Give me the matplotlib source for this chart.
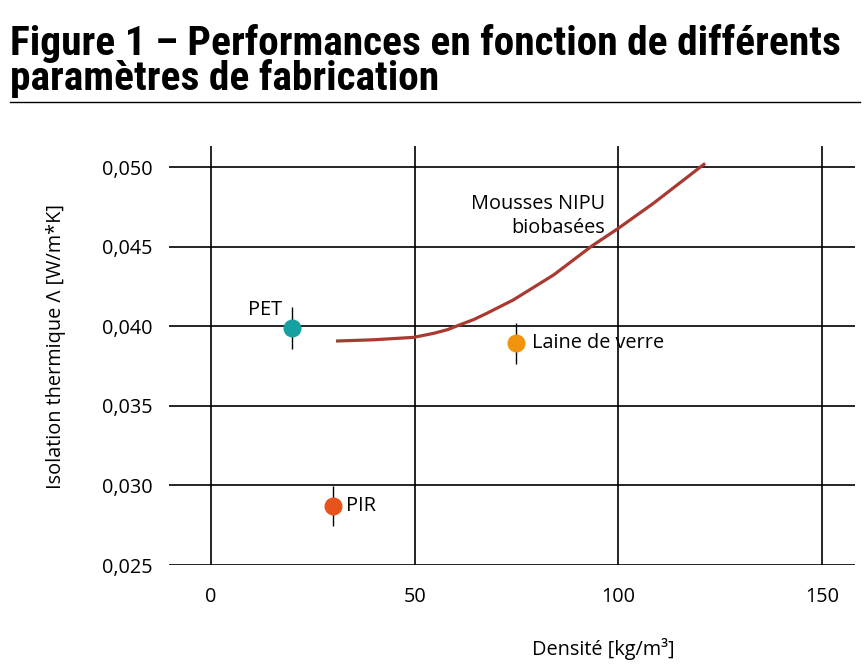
import matplotlib.pyplot as plt
from matplotlib.lines import Line2D

# data
curve_density = [30.7, 40, 49.7, 54.6, 58, 61, 64.5, 67.7, 74.2, 84.1, 93.5, 100, 108.6, 121.3]
curve_lambda = [0.03907, 0.03915, 0.03930, 0.03955, 0.03978, 0.04008, 0.04042, 0.04081,
                0.04165, 0.04322, 0.04504, 0.04615, 0.04772, 0.05023]

materials = ['PET', 'PIR', 'Laine de verre']
mat_density = [20, 30, 75]
mat_lambda = [0.03989, 0.02871, 0.03894]
mat_err = [0.00129, 0.00126, 0.00129]
mat_colors = ['#16a0a0', '#e8531b', '#f2930c']

x_ticks = [0, 50, 100, 150]
y_ticks = [0.025, 0.030, 0.035, 0.040, 0.045, 0.050]
y_ticklabels = ['0,025', '0,030', '0,035', '0,040', '0,045', '0,050']

plt.rcParams['font.family'] = ['Open Sans', 'DejaVu Sans']

fig = plt.figure(figsize=(8.67, 6.72), dpi=100)
ax = fig.add_axes([0.1949, 0.1592, 0.7913, 0.6235])

# title block
fig.text(0.011, 0.965, 'Figure 1 – Performances en fonction de différents\nparamètres de fabrication',
         family=['Roboto Condensed', 'DejaVu Sans'], fontstretch='condensed', fontweight='heavy',
         fontsize=29.8, va='top', ha='left', linespacing=0.88)
fig.add_artist(Line2D([0.012, 0.992], [0.848, 0.848], color='black', lw=1.0))

# curve
ax.plot(curve_density, curve_lambda, color='#a83a32', lw=2.3, solid_capstyle='butt', zorder=3)

# materials with error bars
for name, x, y, e, c in zip(materials, mat_density, mat_lambda, mat_err, mat_colors):
    ax.errorbar(x, y, yerr=e, fmt='none', ecolor='black', elinewidth=1.0, capsize=0, zorder=4)
    ax.plot(x, y, 'o', color=c, markersize=13, markeredgewidth=0, zorder=5)

fs = 14.3
ax.text(mat_density[0] - 2.5, mat_lambda[0] + 0.0011, 'PET', ha='right', va='center', fontsize=fs)
ax.text(mat_density[1] + 3.2, mat_lambda[1], 'PIR', ha='left', va='center', fontsize=fs)
ax.text(mat_density[2] + 3.8, mat_lambda[2], 'Laine de verre', ha='left', va='center', fontsize=fs)
ax.text(96.8, 0.04833, 'Mousses NIPU\nbiobasées', ha='right', va='top', fontsize=fs,
        linespacing=1.3)

ax.set_xlim(-10.3, 158.1)
ax.set_ylim(0.025, 0.05132)
ax.set_xticks(x_ticks)
ax.set_yticks(y_ticks)
ax.set_yticklabels(y_ticklabels)
ax.tick_params(axis='both', length=0, labelsize=fs)
ax.tick_params(axis='y', pad=12)
ax.tick_params(axis='x', pad=16)

ax.grid(True, color='black', lw=1.2)
ax.set_axisbelow(True)
for s in ax.spines.values():
    s.set_visible(False)

ax.set_ylabel('Isolation thermique Λ [W/m*K]', fontsize=fs)
ax.yaxis.set_label_coords(-0.150, 0.522)
ax.set_xlabel('Densité [kg/m³]', fontsize=fs)
ax.xaxis.set_label_coords(0.633, -0.173)

fig.savefig('out.png', dpi=100)
